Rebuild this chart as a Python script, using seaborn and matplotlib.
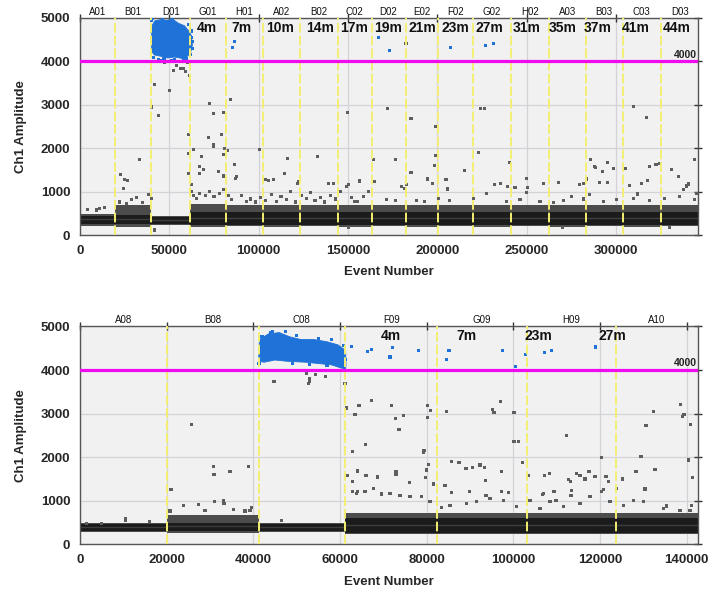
import matplotlib
matplotlib.use("Agg")
import matplotlib.pyplot as plt
import matplotlib.transforms as mtransforms
import pandas as pd
import seaborn as sns

# ------------------------------------------------------------------ data
THRESHOLD = 4000

# ---- top panel -------------------------------------------------------
TOP_WELLS = ["A01", "B01", "D01", "G01", "H01", "A02", "B02", "C02", "D02",
             "E02", "F02", "G02", "H02", "A03", "B03", "C03", "D03"]
TOP_BOUNDS = [0, 19500, 40000, 61500, 81500, 102500, 123000, 144100, 163200,
              182200, 200500, 219700, 241000, 262500, 283100, 303600, 325100, 346000]
TOP_TIMES = ["4m", "7m", "10m", "14m", "17m", "19m", "21m", "23m", "27m",
             "31m", "35m", "37m", "41m", "44m"]
TOP_TIME_X = [70900, 90500, 112000, 134600, 153300, 172300, 191800, 209800,
              229000, 249900, 270200, 289900, 311100, 333900]
TOP_XTICKS = [0, 50000, 100000, 150000, 200000, 250000, 300000]
# negative droplet band per well (outer grey envelope, dark core, light streak)
TOP_OUT_LO = [200, 190, 235, 195, 200, 195, 200, 195, 200, 195, 200, 195, 200, 195, 200, 195, 200]
TOP_OUT_HI = [480, 700, 440, 720, 690, 680, 690, 700, 680, 690, 690, 680, 690, 680, 690, 680, 690]
TOP_CORE_LO = [255, 250, 265, 235, 240, 235, 240, 235, 240, 235, 240, 235, 240, 235, 240, 235, 240]
TOP_CORE_HI = [440, 470, 415, 530, 525, 530, 525, 530, 525, 530, 525, 530, 525, 530, 525, 530, 525]
TOP_STREAK = [370, 380, 345, 400, 395, 400, 395, 400, 395, 400, 395, 400, 395, 400, 395, 400, 395]
# positive droplet cluster outline (D01)
TOP_CLUSTER_X = [39900, 40200, 42000, 45000, 49000, 52000, 55000, 58500, 60500,
                 62300, 62900, 61900, 60000, 57000, 53000, 49000, 45000, 41500]
TOP_CLUSTER_Y = [4250, 4820, 4940, 4960, 4950, 4970, 4880, 4820, 4720,
                 4600, 4380, 4200, 4110, 4070, 4100, 4080, 4120, 4150]
TOP_POS_X = [85200, 86300, 166900, 173400, 207400, 227100, 231200,
             40500, 62500, 61800, 44000, 58000, 51000, 39800, 63200,
             41000, 45500, 47000, 53000, 56000, 59500, 62600, 63000, 39800, 40200,
             46000, 52000, 60500]
TOP_POS_Y = [4330, 4450, 4555, 4255, 4325, 4370, 4410,
             4980, 4700, 4150, 4050, 4060, 4030, 4500, 4450,
             4090, 4020, 4060, 4050, 4000, 4060, 4560, 4300, 4700, 4950,
             4990, 4990, 4850]
TOP_NEG_X = [4000, 9300, 11100, 13900, 22700, 24200, 25100, 26600, 33500, 28900,
             31700, 38600, 40200, 22000, 26000, 35000, 41500, 40070, 41900, 44150,
             49900, 47500, 52200, 54050, 56460, 57760, 59260, 61100, 60200, 60550,
             60550, 60950, 62450, 72700, 74900, 80200, 84450, 71700, 79200, 63700,
             67100, 68000, 68900, 74500, 77300, 80200, 81100, 86700, 87600, 82600,
             80100, 87100, 67100, 74500, 62500, 63500, 65000, 67000, 70000, 72500,
             75000, 78000, 80500, 83000, 85000, 100300, 103500, 105300, 108100, 116200,
             114300, 121800, 122100, 133000, 138900, 141700, 149500, 150100, 149200, 156600,
             90500, 93000, 95500, 98000, 101000, 104000, 107000, 110000, 112500, 115500,
             118000, 120500, 124000, 126500, 129000, 131500, 134500, 137000, 140000, 143000,
             146000, 152000, 155000, 182400, 171900, 185200, 199200, 224200, 226600, 309600,
             317100, 164100, 176800, 185200, 180000, 181400, 182800, 199200, 198200, 194300,
             197300, 204800, 205700, 215400, 222800, 231800, 235400, 240200, 239100, 243400,
             249900, 250300, 249900, 259600, 267600, 279700, 281600, 283500, 285900, 287700,
             288700, 292200, 295000, 298400, 290500, 295200, 305500, 311800, 307300, 314300,
             317600, 318500, 322300, 324500, 331100, 334800, 337500, 339400, 340300, 343700,
             345000, 153800, 158500, 161300, 165000, 171600, 176800, 188400, 193000, 200500,
             207000, 220000, 227500, 238700, 246200, 257400, 264800, 270400, 275100, 281600,
             285300, 292800, 300300, 309600, 318900, 327300, 335700, 344100, 150000, 270000,
             330000]
TOP_NEG_Y = [590, 577, 615, 640, 1385, 1075, 1285, 1255, 1745, 810,
             860, 925, 845, 760, 720, 740, 115, 2950, 3460, 2750,
             3320, 3985, 3785, 3910, 3830, 3830, 3770, 3670, 3985, 2320,
             1885, 1425, 1155, 3020, 2790, 2820, 3115, 2250, 2320, 1960,
             1580, 1810, 1500, 2040, 1460, 1845, 2000, 1615, 1345, 1955,
             1360, 1310, 1425, 2080, 1000, 900, 850, 960, 920, 1010,
             880, 950, 1050, 900, 820, 1960, 1270, 1255, 1270, 1770,
             1425, 1195, 1230, 1810, 1195, 1195, 2820, 1155, 1115, 1245,
             905, 780, 830, 760, 870, 800, 940, 770, 890, 820,
             1000, 760, 900, 850, 980, 790, 870, 760, 920, 830,
             1010, 870, 780, 4420, 2920, 2680, 2500, 2920, 2920, 2960,
             2715, 1745, 1745, 1445, 1115, 1075, 1155, 1830, 1600, 1290,
             1195, 1270, 1060, 1485, 1910, 1155, 1195, 1680, 1115, 1100,
             1310, 1100, 975, 1195, 1210, 1155, 1195, 1290, 1745, 1580,
             1560, 1460, 1680, 1525, 1215, 1215, 1540, 945, 1140, 1195,
             1255, 1580, 1615, 1640, 1515, 1345, 1040, 1130, 1175, 1745,
             960, 770, 885, 1000, 1230, 810, 785, 790, 770, 845,
             790, 845, 960, 770, 810, 770, 745, 785, 885, 830,
             925, 770, 810, 845, 790, 845, 885, 810, 170, 180,
             175]

# ---- bottom panel ----------------------------------------------------
BOT_WELLS = ["A08", "B08", "C08", "F09", "G09", "H09", "A10"]
BOT_BOUNDS = [0, 20100, 41200, 61200, 82450, 103100, 123660, 142700]
BOT_TIMES = ["4m", "7m", "23m", "27m"]
BOT_TIME_X = [71700, 89200, 105700, 122800]
BOT_XTICKS = [0, 20000, 40000, 60000, 80000, 100000, 120000, 140000]
BOT_OUT_LO = [280, 255, 280, 230, 230, 230, 230]
BOT_OUT_HI = [500, 670, 500, 720, 720, 710, 720]
BOT_CORE_LO = [310, 300, 310, 260, 260, 260, 260]
BOT_CORE_HI = [470, 480, 470, 600, 595, 600, 595]
BOT_STREAK = [400, 420, 400, 440, 440, 440, 440]
BOT_CLUSTER_X = [41200, 41400, 43500, 46000, 48500, 51000, 54000, 57000, 59500,
                 61300, 61400, 60500, 58000, 55000, 52000, 48000, 45000, 42500]
BOT_CLUSTER_Y = [4200, 4700, 4830, 4860, 4760, 4700, 4700, 4650, 4580,
                 4450, 4080, 4040, 4120, 4150, 4180, 4200, 4230, 4180]
BOT_POS_X = [62700, 66400, 67320, 72070, 71540, 78070, 85160, 84630, 97460,
             100550, 102860, 107150, 108860, 119000, 44500, 41300, 61000,
             42000, 44000, 47500, 50000, 55000, 58000, 60800, 61300, 53000, 49000,
             57000]
BOT_POS_Y = [4550, 4435, 4480, 4520, 4300, 4455, 4440, 4250, 4440,
             4090, 4355, 4400, 4440, 4530, 4880, 4150, 4030,
             4780, 4870, 4880, 4790, 4720, 4700, 4560, 4250, 4130, 4160,
             4100]
BOT_NEG_X = [10400, 10400, 1500, 5000, 16000, 25780, 21000, 20770, 23840, 27300,
             30770, 30920, 31000, 28850, 34620, 38840, 33080, 33230, 35380, 38080,
             39230, 39620, 46540, 44770, 52320, 52900, 52900, 52690, 54400, 56700,
             61150, 61550, 63460, 64390, 65930, 62840, 61690, 64000, 66000, 62840,
             64080, 62930, 64080, 67320, 71930, 72850, 74620, 73620, 80240, 80930,
             80240, 84630, 95150, 95540, 97080, 100160, 112310, 130630, 132460, 138620,
             139080, 139390, 140940, 79230, 79390, 80390, 80000, 79770, 85780, 87470,
             89080, 90620, 92310, 93310, 93620, 97310, 100160, 101150, 102160, 103460,
             107150, 108310, 72930, 72930, 68700, 76000, 81540, 84240, 85780, 89850,
             93700, 97310, 98840, 106790, 120400, 129480, 128320, 132700, 140380, 141400,
             112700, 113240, 114630, 115390, 116540, 117460, 118850, 121390, 121930, 125240,
             123860, 130400, 120770, 120400, 113470, 113320, 106930, 109390, 109850, 135390,
             141170, 63860, 65770, 67690, 69630, 71540, 73850, 76160, 78860, 80780,
             83480, 85390, 89250, 91550, 94620, 97690, 100780, 103850, 106160, 108470,
             111540, 115390, 117700, 122320, 125390, 127700, 130010, 134620, 138470, 140780]
BOT_NEG_Y = [555, 595, 470, 480, 520, 2760, 1260, 765, 900, 915,
             1780, 1605, 980, 785, 1665, 1795, 1000, 940, 800, 765,
             785, 850, 555, 3730, 3920, 3810, 3745, 3690, 3905, 3845,
             3690, 3130, 2990, 3195, 2290, 2125, 1590, 1665, 1590, 1450,
             1690, 1205, 1205, 3295, 3195, 2890, 2965, 2645, 3195, 3080,
             2910, 3055, 3095, 3020, 3285, 3025, 2505, 2735, 3055, 3215,
             2940, 2980, 2760, 2100, 2160, 1840, 1705, 1535, 1910, 1880,
             1735, 1765, 1820, 1755, 1460, 1680, 2370, 2370, 1870, 1590,
             1590, 1630, 1665, 1605, 1545, 1415, 1385, 1345, 1190, 1205,
             1130, 1220, 1185, 1145, 1985, 2010, 1665, 1720, 1935, 1530,
             1490, 1435, 1630, 1575, 1500, 1665, 1550, 1550, 1435, 1500,
             1285, 1270, 1260, 1205, 1245, 1130, 1170, 1205, 1000, 880,
             900, 1165, 1205, 1285, 1155, 1170, 1130, 1090, 1090, 975,
             850, 900, 940, 975, 1055, 1015, 860, 1015, 825, 975,
             860, 940, 1090, 975, 900, 1015, 975, 825, 785, 785]

# ------------------------------------------------------------------ style
sns.set_style("white")
plt.rcParams["font.family"] = ["Liberation Sans", "DejaVu Sans"]

BG = "#f1f1f1"
GRID = "#d2d2d8"
GREY_PT = "#5e5e5e"
BAND_OUT = "#4c4c4c"
BAND_CORE = "#1b1b1b"
STREAK = "#3d3d3d"
BLUE = "#1f72d8"
MAGENTA = "#f00af0"
YELLOW = "#f4ee72"
YTICKS = [0, 1000, 2000, 3000, 4000, 5000]

fig = plt.figure(figsize=(7.13, 5.96), dpi=100)
ax_top = fig.add_axes([0.1122, 0.6057, 0.8672, 0.3641])
ax_bot = fig.add_axes([0.1122, 0.0867, 0.8672, 0.3655])


def draw_panel(ax, wells, bounds, out_lo, out_hi, core_lo, core_hi, streak,
               cl_x, cl_y, pos_x, pos_y, neg_x, neg_y,
               times, time_x, xticks, xmax):
    ax.set_facecolor(BG)
    ax.set_xlim(0, xmax)
    ax.set_ylim(0, 5000)
    ax.set_xticks(xticks)
    ax.set_yticks(YTICKS)
    ax.grid(True, color=GRID, linewidth=0.9, zorder=0)
    ax.set_axisbelow(True)

    # negative droplet bands
    for i in range(len(wells)):
        x0, x1 = bounds[i], bounds[i + 1]
        ax.fill_between([x0, x1], out_lo[i], out_hi[i], color=BAND_OUT,
                        linewidth=0, zorder=2)
        ax.fill_between([x0, x1], core_lo[i], core_hi[i], color=BAND_CORE,
                        linewidth=0, zorder=2.1)
        ax.plot([x0, x1], [streak[i], streak[i]], color=STREAK, linewidth=1.0,
                zorder=2.2)

    # positive cluster
    ax.fill(cl_x, cl_y, color=BLUE, linewidth=0.6, edgecolor=BLUE, zorder=2.5)

    df = pd.DataFrame({
        "Event Number": list(neg_x) + list(pos_x),
        "Ch1 Amplitude": list(neg_y) + list(pos_y),
        "cls": ["neg"] * len(neg_x) + ["pos"] * len(pos_x),
    })
    sns.scatterplot(data=df, x="Event Number", y="Ch1 Amplitude", hue="cls",
                    palette={"neg": GREY_PT, "pos": BLUE}, marker="s", s=5,
                    linewidth=0, legend=False, ax=ax, zorder=3)

    # well separators
    for b in bounds[1:-1]:
        ax.axvline(b, color=YELLOW, linewidth=1.4, linestyle=(0, (5, 1.5)), zorder=3.5)

    # threshold
    ax.axhline(THRESHOLD, color=MAGENTA, linewidth=2.3, zorder=4)
    ax.text(0.998, THRESHOLD + 40, str(THRESHOLD),
            transform=mtransforms.blended_transform_factory(ax.transAxes, ax.transData),
            ha="right", va="bottom", fontsize=7.5, fontweight="bold",
            color="#222222", zorder=5)

    trans = mtransforms.blended_transform_factory(ax.transData, ax.transAxes)
    for i, w in enumerate(wells):
        cx = (bounds[i] + bounds[i + 1]) / 2
        ax.text(cx, 1.006, w, transform=trans, ha="center", va="bottom",
                fontsize=7, color="#111111")
    for t, tx in zip(times, time_x):
        ax.text(tx, 0.988, t, transform=trans, ha="center", va="top",
                fontsize=10, fontweight="bold", color="#111111", zorder=5)

    for s in ax.spines.values():
        s.set_color("#555555")
        s.set_linewidth(1.0)
    ax.tick_params(axis="both", which="major", direction="inout", length=6,
                   width=1.0, color="#333333", top=True, right=True,
                   labelsize=9.5, pad=4)
    ax.set_xticklabels([str(v) for v in xticks], fontweight="bold")
    ax.set_yticklabels([str(v) for v in YTICKS], fontweight="bold")
    ax.set_xlabel("Event Number", fontsize=9.5, fontweight="bold")
    ax.set_ylabel("Ch1 Amplitude", fontsize=9.5, fontweight="bold")
    ax.xaxis.set_label_coords(0.5, -0.145)
    ax.yaxis.set_label_coords(-0.086, 0.5)


draw_panel(ax_top, TOP_WELLS, TOP_BOUNDS, TOP_OUT_LO, TOP_OUT_HI, TOP_CORE_LO, TOP_CORE_HI,
           TOP_STREAK, TOP_CLUSTER_X, TOP_CLUSTER_Y, TOP_POS_X, TOP_POS_Y,
           TOP_NEG_X, TOP_NEG_Y, TOP_TIMES, TOP_TIME_X, TOP_XTICKS, 346000)
draw_panel(ax_bot, BOT_WELLS, BOT_BOUNDS, BOT_OUT_LO, BOT_OUT_HI, BOT_CORE_LO, BOT_CORE_HI,
           BOT_STREAK, BOT_CLUSTER_X, BOT_CLUSTER_Y, BOT_POS_X, BOT_POS_Y,
           BOT_NEG_X, BOT_NEG_Y, BOT_TIMES, BOT_TIME_X, BOT_XTICKS, 142700)

fig.savefig("out.png", dpi=100, facecolor="white")
